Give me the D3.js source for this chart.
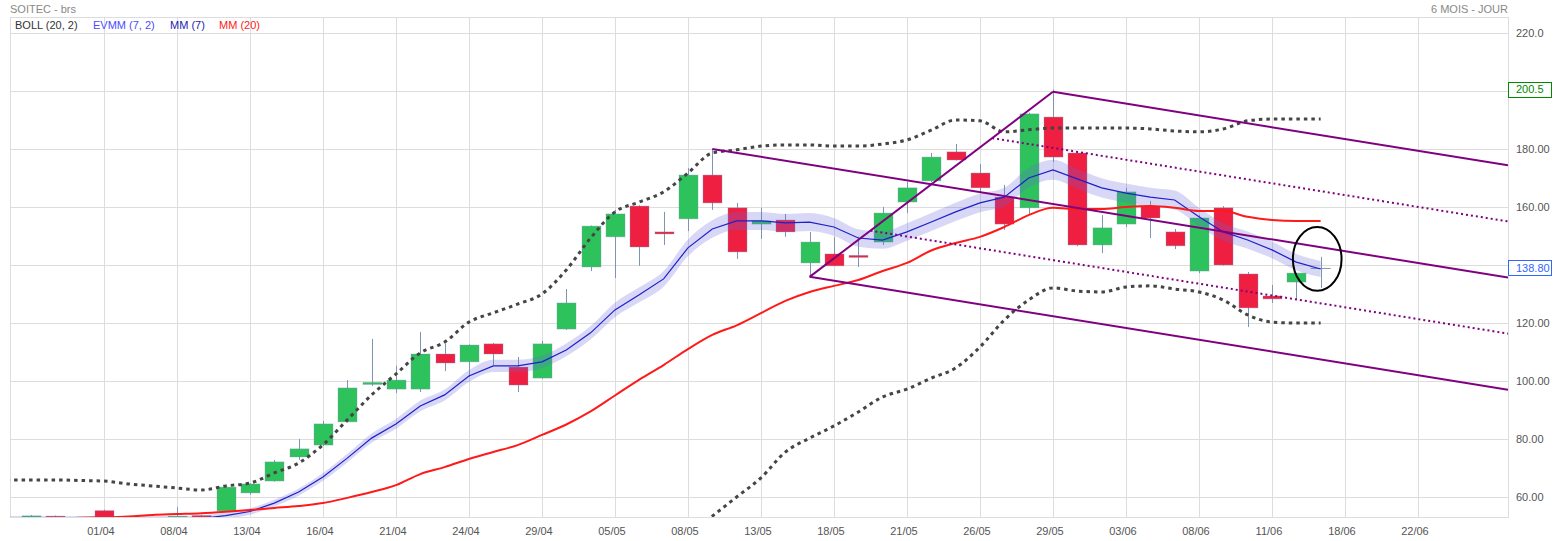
<!DOCTYPE html>
<html>
<head>
<meta charset="utf-8">
<script src="https://cdn.jsdelivr.net/npm/d3@7/dist/d3.min.js"></script>
<style>
body { margin: 0; background: #fff; }
text { font-family: "Liberation Sans", Arial, sans-serif; font-size: 11px; }
</style>
</head>
<body>
<svg id="chart" width="1553" height="541"></svg>
<script>
// daily bars, the first one sits just left of the visible area
var opens  = [52.0, 52.5, 53.4, 52.7, 55.3, 52.3, 52.0, 52.4, 53.6, 55.2, 61.4, 65.5, 73.8, 77.9, 85.9, 99.0, 97.2, 97.2, 109.3, 106.6, 112.8, 104.8, 101.0, 117.9, 139.3, 149.7, 160.3, 151.4, 155.9, 171.0, 159.7, 154.1, 155.5, 140.7, 143.8, 143.3, 147.9, 161.7, 169.0, 179.0, 171.7, 163.4, 159.7, 191.0, 178.6, 146.9, 154.1, 160.3, 151.4, 137.9, 159.7, 136.9, 129.3, 134.1, 138.8];
var highs  = [52.4, 53.8, 53.6, 52.9, 55.6, 52.6, 52.5, 56.5, 53.9, 63.6, 64.7, 72.8, 80.0, 86.2, 100.3, 114.5, 105.2, 116.9, 112.8, 112.6, 113.1, 108.3, 113.8, 131.7, 153.6, 159.0, 160.6, 158.3, 173.4, 180.0, 161.4, 159.7, 157.6, 151.4, 149.7, 149.7, 160.0, 168.6, 178.6, 181.7, 174.8, 167.6, 192.5, 200.5, 179.0, 157.2, 166.6, 162.1, 152.4, 157.2, 160.3, 137.6, 133.1, 137.2, 142.8];
var lows   = [51.6, 52.0, 52.5, 52.0, 52.0, 51.5, 51.5, 52.0, 52.0, 55.0, 60.8, 65.3, 72.8, 77.6, 85.6, 98.3, 95.9, 96.2, 103.4, 101.4, 105.5, 96.2, 100.8, 117.6, 137.9, 135.5, 139.7, 146.9, 151.7, 159.0, 142.1, 149.0, 149.7, 135.9, 139.7, 139.3, 146.9, 157.9, 168.5, 176.0, 164.8, 152.1, 157.2, 175.5, 146.5, 144.1, 153.1, 149.3, 145.5, 137.2, 139.8, 118.6, 126.9, 127.9, 132.1];
var closes = [52.2, 53.5, 52.9, 52.4, 52.4, 52.0, 52.2, 53.4, 52.6, 63.4, 64.5, 72.1, 76.6, 85.2, 97.6, 99.5, 100.3, 109.3, 106.2, 112.4, 109.3, 98.6, 112.8, 126.9, 153.4, 157.6, 146.2, 150.7, 171.0, 161.4, 144.5, 155.2, 151.4, 147.9, 139.7, 142.9, 157.9, 166.6, 177.2, 176.2, 166.6, 154.1, 192.1, 177.2, 146.9, 152.8, 165.2, 156.2, 146.6, 156.2, 140.0, 125.2, 128.3, 137.2, 138.8];

// indicators
var mm7   = [52.4, 52.4, 52.4, 52.4, 52.4, 52.4, 52.4, 52.4, 52.6, 53.6, 55.0, 57.9, 61.7, 66.9, 73.4, 80.3, 85.2, 91.4, 95.2, 101.7, 105.2, 105.2, 106.6, 110.7, 116.6, 124.5, 129.7, 135.2, 145.9, 152.4, 155.2, 155.2, 154.5, 154.8, 153.1, 149.3, 148.6, 151.4, 154.8, 158.3, 161.4, 163.4, 170.0, 172.8, 169.7, 166.6, 164.8, 163.4, 162.4, 156.6, 151.4, 148.6, 145.2, 141.0, 138.6];
var mm20  = [52.4, 52.5, 52.6, 52.8, 53.0, 53.3, 53.8, 54.1, 54.4, 54.9, 55.5, 56.2, 56.9, 57.9, 59.7, 61.7, 64.1, 67.9, 70.3, 73.1, 75.5, 77.9, 81.4, 85.0, 89.5, 95.0, 100.5, 105.5, 111.0, 115.9, 119.2, 123.4, 127.6, 130.7, 132.8, 134.8, 137.9, 140.7, 145.0, 147.6, 149.7, 153.1, 157.2, 159.7, 159.3, 159.3, 160.0, 160.3, 159.7, 158.6, 158.6, 156.6, 155.5, 155.2, 155.2];
var bolUp = [65.9, 65.9, 65.9, 65.7, 65.5, 64.5, 63.8, 63.1, 62.4, 63.8, 64.8, 68.3, 71.7, 78.0, 86.6, 95.2, 102.4, 109.7, 113.4, 120.3, 123.5, 126.5, 130.0, 138.3, 149.3, 158.3, 161.7, 165.2, 171.7, 178.6, 179.7, 181.0, 181.4, 181.4, 181.0, 181.0, 181.7, 183.1, 186.5, 190.0, 189.7, 185.9, 186.6, 187.2, 187.2, 187.2, 187.2, 186.9, 186.2, 185.9, 186.9, 189.7, 190.3, 190.3, 190.3];
var bolLoStart = 28;   // lower band below the visible range before this bar
var bolLo = [47.0, 53.4, 60.0, 66.6, 75.5, 80.3, 84.5, 89.3, 94.5, 97.2, 101.0, 104.5, 111.7, 121.0, 127.9, 132.1, 131.0, 130.7, 132.4, 132.8, 131.7, 130.7, 127.9, 122.8, 120.3, 120.0, 120.0];
var envPct = 0.02;     // EVMM (7, 2)

// pitchfork anchors (bar index, price)
var pfBars = [29, 33, 43];
var pfVals = [180.0, 135.9, 199.7];

// axis
var dateLabels = ["01/04", "08/04", "13/04", "16/04", "21/04", "24/04", "29/04", "05/05", "08/05", "13/05", "18/05", "21/05", "26/05", "29/05", "03/06", "08/06", "11/06", "18/06", "22/06"];
var firstLabelBar = 4, labelEvery = 3;
var yTicks = [60, 80, 100, 120, 140, 160, 180, 200, 220];
// 200 sits under the high tag, so it gets no label
var yTickLabels = ["60.00", "80.00", "100.00", "120.00", "140.00", "160.00", "180.00", "", "220.0"];

var legendNames  = ["BOLL (20, 2)", "EVMM (7, 2)", "MM (7)", "MM (20)"];
var legendColors = ["#333333", "#4b4bff", "#1c1cb0", "#ff2020"];
var legendX      = [15, 93, 170, 219];

var tagValues = [200.5, 138.8];
var tagTexts  = ["200.5", "138.80"];
var tagColors = ["#008a00", "#3366ff"];

var plotL = 10, plotR = 1508, plotT = 17, plotB = 517;

var svg = d3.select("#chart");
var x = d3.scaleLinear().domain([0.14, 61.7]).range([plotL, plotR]);
var y = d3.scaleLinear().domain([53.1, 225.5]).range([plotB, plotT]);

svg.append("defs").append("clipPath").attr("id", "plot")
    .append("rect").attr("x", plotL).attr("y", plotT)
    .attr("width", plotR - plotL).attr("height", plotB - plotT);

// header texts
svg.append("text").attr("x", 10).attr("y", 13).attr("fill", "#888").text("SOITEC - brs");
svg.append("text").attr("x", plotR).attr("y", 13).attr("fill", "#888")
    .attr("text-anchor", "end").text("6 MOIS - JOUR");

// grid
var grid = svg.append("g");
grid.selectAll("line.h").data(yTicks).enter().append("line")
    .attr("x1", plotL).attr("x2", plotR)
    .attr("y1", function(d){ return Math.round(y(d)) + 0.5; })
    .attr("y2", function(d){ return Math.round(y(d)) + 0.5; })
    .attr("stroke", "#dddddd");
grid.selectAll("line.v").data(dateLabels).enter().append("line")
    .attr("x1", function(d, i){ return Math.round(x(firstLabelBar + i * labelEvery)) + 0.5; })
    .attr("x2", function(d, i){ return Math.round(x(firstLabelBar + i * labelEvery)) + 0.5; })
    .attr("y1", plotT).attr("y2", plotB)
    .attr("stroke", "#dddddd");
grid.append("rect").attr("x", plotL + 0.5).attr("y", plotT + 0.5)
    .attr("width", plotR - plotL).attr("height", plotB - plotT)
    .attr("fill", "none").attr("stroke", "#dddddd");

// axis labels
svg.selectAll("text.xl").data(dateLabels).enter().append("text")
    .attr("x", function(d, i){ return x(firstLabelBar + i * labelEvery) - 3; })
    .attr("y", 535).attr("text-anchor", "middle").attr("fill", "#555")
    .text(function(d){ return d; });
svg.selectAll("text.yl").data(yTicks.filter(function(d, i){ return yTickLabels[i] != ""; })).enter().append("text")
    .attr("x", 1516).attr("y", function(d){ return y(d); }).attr("dy", "0.35em")
    .attr("fill", "#555")
    .text(function(d){ return yTickLabels[yTicks.indexOf(d)]; });

// legend
svg.selectAll("text.lg").data(legendNames).enter().append("text")
    .attr("x", function(d, i){ return legendX[i]; }).attr("y", 29)
    .attr("fill", function(d, i){ return legendColors[i]; })
    .text(function(d){ return d; });

var plot = svg.append("g").attr("clip-path", "url(#plot)");

// candles
var bars = d3.range(opens.length);
plot.selectAll("line.wick").data(bars).enter().append("line")
    .attr("x1", function(i){ return Math.round(x(i)) + 0.5; })
    .attr("x2", function(i){ return Math.round(x(i)) + 0.5; })
    .attr("y1", function(i){ return y(highs[i]); })
    .attr("y2", function(i){ return y(lows[i]); })
    .attr("stroke", "#7e94b4");
plot.selectAll("rect.body").data(bars.filter(function(i){ return opens[i] != closes[i]; })).enter().append("rect")
    .attr("x", function(i){ return Math.round(x(i)) - 9; })
    .attr("width", 19)
    .attr("y", function(i){ return y(Math.max(opens[i], closes[i])); })
    .attr("height", function(i){ return Math.max(2, Math.abs(y(opens[i]) - y(closes[i]))); })
    .attr("fill", function(i){ return closes[i] > opens[i] ? "#2ec25c" : "#ef1f41"; })
    .attr("stroke", "#7e94b4").attr("stroke-opacity", 0.35);
plot.selectAll("line.doji").data(bars.filter(function(i){ return opens[i] == closes[i]; })).enter().append("line")
    .attr("x1", function(i){ return x(i) - 10; })
    .attr("x2", function(i){ return x(i) + 10; })
    .attr("y1", function(i){ return y(closes[i]); })
    .attr("y2", function(i){ return y(closes[i]); })
    .attr("stroke", "#7e94b4");

// EVMM envelope and moving averages
var band = d3.area()
    .x(function(d, i){ return x(i); })
    .y0(function(d){ return y(d * (1 - envPct)); })
    .y1(function(d){ return y(d * (1 + envPct)); })
    .curve(d3.curveMonotoneX);
plot.append("path").datum(mm7).attr("d", band)
    .attr("fill", "rgb(100,100,220)").attr("fill-opacity", 0.25);

var line = d3.line().x(function(d, i){ return x(i); }).y(function(d){ return y(d); });
plot.append("path").datum(mm7).attr("d", line)
    .attr("fill", "none").attr("stroke", "#1f1fcc").attr("stroke-width", 1.2);
plot.append("path").datum(mm20).attr("d", line.curve(d3.curveMonotoneX))
    .attr("fill", "none").attr("stroke", "#ff1a1a").attr("stroke-width", 2);

// bollinger
var lineFrom = function(start){
    return d3.line().x(function(d, i){ return x(start + i); }).y(function(d){ return y(d); })
        .curve(d3.curveMonotoneX);
};
plot.append("path").datum(bolUp).attr("d", lineFrom(0))
    .attr("fill", "none").attr("stroke", "#454545").attr("stroke-width", 3)
    .attr("stroke-dasharray", "3.5,4");
plot.append("path").datum(bolLo).attr("d", lineFrom(bolLoStart))
    .attr("fill", "none").attr("stroke", "#454545").attr("stroke-width", 3)
    .attr("stroke-dasharray", "3.5,4");

// andrews pitchfork
var p = pfBars.map(function(b, i){ return [x(b), y(pfVals[i])]; });
var mid = [(p[1][0] + p[2][0]) / 2, (p[1][1] + p[2][1]) / 2];
var slope = (mid[1] - p[0][1]) / (mid[0] - p[0][0]);
var toEdge = function(pt){ return [plotR, pt[1] + (plotR - pt[0]) * slope]; };
var onHandle = function(t){ return [p[1][0] + t * (p[2][0] - p[1][0]), p[1][1] + t * (p[2][1] - p[1][1])]; };
var pf = plot.append("g").attr("fill", "none").attr("stroke", "#800080").attr("stroke-width", 2);
var seg = function(a, b, dash){
    var l = pf.append("line").attr("x1", a[0]).attr("y1", a[1]).attr("x2", b[0]).attr("y2", b[1]);
    if (dash) l.attr("stroke-dasharray", "2,3");
};
seg(p[1], p[2]);
seg(p[0], toEdge(p[0]));
seg(p[1], toEdge(p[1]));
seg(p[2], toEdge(p[2]));
seg(onHandle(0.25), toEdge(onHandle(0.25)), true);
seg(onHandle(0.75), toEdge(onHandle(0.75)), true);

// circled last bar
plot.append("ellipse")
    .attr("cx", x(53.86)).attr("cy", y(142.1))
    .attr("rx", x(1) - x(0)).attr("ry", y(131.1) - y(142.1))
    .attr("fill", "none").attr("stroke", "#000").attr("stroke-width", 2);

// price tags on the right axis
var tags = svg.selectAll("g.tag").data(tagValues).enter().append("g");
tags.append("rect")
    .attr("x", plotR + 0.5).attr("y", function(d){ return Math.round(y(d)) - 7.5; })
    .attr("width", 43).attr("height", 15)
    .attr("fill", "#fff").attr("stroke", function(d, i){ return tagColors[i]; });
tags.append("text")
    .attr("x", 1516).attr("y", function(d){ return y(d); }).attr("dy", "0.35em")
    .attr("fill", function(d, i){ return tagColors[i]; })
    .text(function(d, i){ return tagTexts[i]; });
</script>
</body>
</html>
